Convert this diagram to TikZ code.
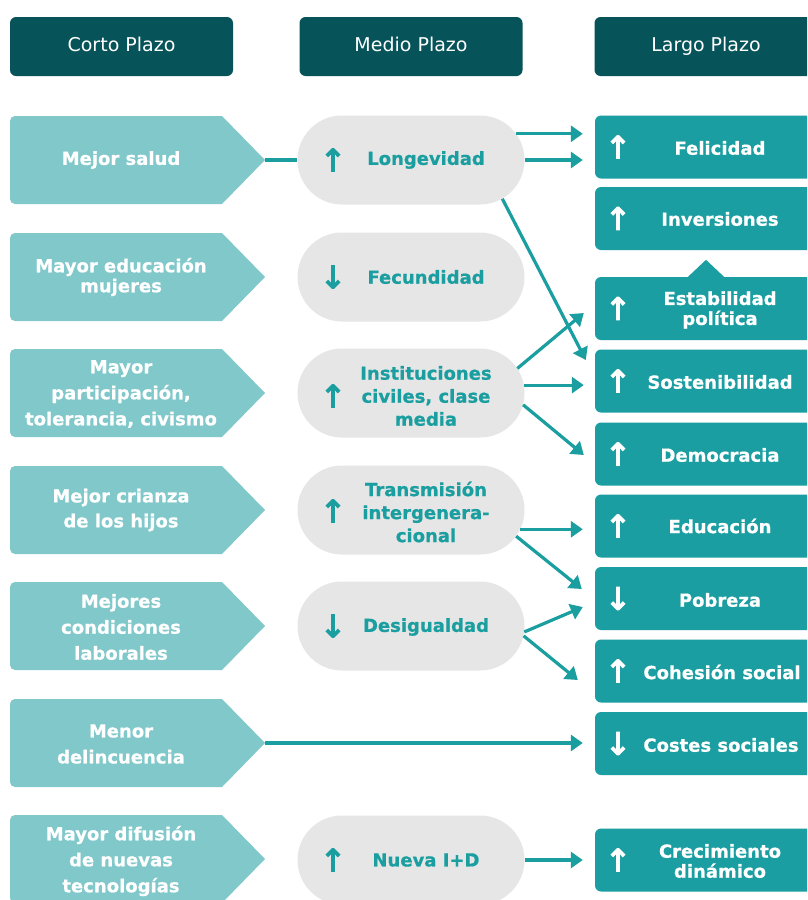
\documentclass[tikz,border=0pt]{standalone}
\usepackage{fontspec}
\setmainfont{DejaVu Sans}[BoldFeatures={FakeBold=0.7}]
\newfontfamily\arrfont[FakeBold=4]{DejaVu Sans}
\usetikzlibrary{arrows.meta,shapes.misc,calc}
\definecolor{hdrcol}{RGB}{6,84,89}
\definecolor{boxcol}{RGB}{27,158,161}
\definecolor{lightcol}{RGB}{129,200,202}
\definecolor{pillcol}{RGB}{230,230,230}
\definecolor{tealtxt}{RGB}{26,158,160}
\begin{document}
\begin{tikzpicture}[x=1pt,y=-1pt,
  hdr/.style={rectangle, rounded corners=6pt, fill=hdrcol, minimum width=223pt, minimum height=59pt, inner sep=0pt, text height=14pt, text depth=4pt, text=white, font=\fontsize{19}{22}\selectfont},
  ltxt/.style={text=white, align=center, inner sep=0pt, font=\bfseries\fontsize{18}{26}\selectfont},
  pill/.style={rounded rectangle, fill=pillcol, minimum width=227pt, minimum height=89pt, inner sep=0pt},
  ptxt/.style={text=tealtxt, align=center, inner sep=0pt, font=\bfseries\fontsize{18}{23}\selectfont},
  parr/.style={text=tealtxt, inner sep=0pt, font=\arrfont\fontsize{31}{31}\selectfont},
  rbox/.style={rectangle, rounded corners=6pt, fill=boxcol, minimum width=222pt, minimum height=63pt, inner sep=0pt},
  rtxt/.style={text=white, align=center, inner sep=0pt, font=\bfseries\fontsize{18}{20}\selectfont},
  rarr/.style={text=white, inner sep=0pt, font=\arrfont\fontsize{31}{31}\selectfont},
  conn/.style={draw=tealtxt, line width=3.2pt, -{Triangle[length=12pt,width=16pt]}},
  plainconn/.style={draw=tealtxt, line width=3.2pt}
]
\useasboundingbox (0,0) rectangle (807,900);
\clip (0,0) rectangle (807,900);
\fill[white] (0,0) rectangle (807,900);

% headers
\node[hdr] (H1) at (121.5,46.5) {Corto Plazo};
\node[hdr] (H2) at (411,46.5) {Medio Plazo};
\node[hdr] (H3) at (706,46.5) {Largo Plazo};

% left arrow shapes
\foreach \c in {160,277,393,510,626,743,859}{
  \fill[lightcol] (265,\c) -- (222,\c+44) [rounded corners=5pt] -- (10,\c+44) -- (10,\c-44) [sharp corners] -- (222,\c-44) -- cycle;
}
\coordinate (L1tip) at (265,160);
\coordinate (L6tip) at (265,743);
\node[ltxt] (L1) at (121,160) {Mejor salud};
\node[ltxt, font=\bfseries\fontsize{18}{20}\selectfont] (L2) at (121,277) {Mayor educación\\mujeres};
\node[ltxt] (L3) at (121,394) {Mayor\\participación,\\tolerancia, civismo};
\node[ltxt, font=\bfseries\fontsize{18}{25}\selectfont] (L4) at (121,510) {Mejor crianza\\de los hijos};
\node[ltxt] (L5) at (121,627) {Mejores\\condiciones\\laborales};
\node[ltxt] (L6) at (121,744) {Menor\\delincuencia};
\node[ltxt] (L7) at (121,861) {Mayor difusión\\de nuevas\\tecnologías};

% pills
\node[pill] (P1) at (411,160) {};
\node[pill] (P2) at (411,277) {};
\node[pill] (P3) at (411,393) {};
\node[pill] (P4) at (411,510) {};
\node[pill] (P5) at (411,626) {};
\node[pill] (P6) at (411,860) {};
\node[parr] (P1a) at (333,160) {↑};
\node[parr] (P2a) at (333,277) {↓};
\node[parr] (P3a) at (333,396) {↑};
\node[parr] (P4a) at (333,511) {↑};
\node[parr] (P5a) at (333,626) {↓};
\node[parr] (P6a) at (333,860) {↑};
\node[ptxt] (P1t) at (426,160) {Longevidad};
\node[ptxt] (P2t) at (426,277) {Fecundidad};
\node[ptxt] (P3t) at (426,396) {Instituciones\\civiles, clase\\media};
\node[ptxt] (P4t) at (426,512) {Transmisión\\intergenera-\\cional};
\node[ptxt] (P5t) at (426,627) {Desigualdad};
\node[ptxt] (P6t) at (426,860) {Nueva I+D};

% right boxes
\node[rbox] (R1) at (706,147) {};
\node[rbox] (R2) at (706,218.5) {};
\node[rbox] (R3) at (706,308.5) {};
\node[rbox] (R4) at (706,381) {};
\node[rbox] (R5) at (706,454) {};
\node[rbox] (R6) at (706,526) {};
\node[rbox] (R7) at (706,598.5) {};
\node[rbox] (R8) at (706,671) {};
\node[rbox] (R9) at (706,743.5) {};
\node[rbox] (R10) at (706,860) {};
\fill[boxcol] ([xshift=-18pt]R3.north) -- ([yshift=17pt]R3.north) -- ([xshift=18pt]R3.north) -- cycle;

\node[rarr] (R1a) at (618,147) {↑};
\node[rarr] (R2a) at (618,218.5) {↑};
\node[rarr] (R3a) at (618,308.5) {↑};
\node[rarr] (R4a) at (618,381) {↑};
\node[rarr] (R5a) at (618,454) {↑};
\node[rarr] (R6a) at (618,526) {↑};
\node[rarr] (R7a) at (618,598.5) {↓};
\node[rarr] (R8a) at (618,671) {↑};
\node[rarr] (R9a) at (618,743.5) {↓};
\node[rarr] (R10a) at (618,860) {↑};
\node[rtxt] (R1t) at (720,148) {Felicidad};
\node[rtxt] (R2t) at (720,219) {Inversiones};
\node[rtxt] (R3t) at (720,310) {Estabilidad\\política};
\node[rtxt] (R4t) at (720,382) {Sostenibilidad};
\node[rtxt] (R5t) at (720,455) {Democracia};
\node[rtxt] (R6t) at (720,526) {Educación};
\node[rtxt] (R7t) at (720,600) {Pobreza};
\node[rtxt] (R8t) at (722,672) {Cohesión social};
\node[rtxt] (R9t) at (721,745) {Costes sociales};
\node[rtxt] (R10t) at (720,861) {Crecimiento\\dinámico};

% connectors
\draw[plainconn] (L1tip) -- (P1.west);
\draw[conn, shorten >=12pt] (P1.14.4) -- (P1.14.4 -| R1.west);
\draw[conn, shorten >=12pt] (P1.east) -- (P1.east -| R1.west);
\draw[conn] (P1.-23.7) -- ([xshift=-9pt,yshift=21pt]R4.west);
\draw[conn] (P3.13.2) -- ([xshift=-11pt,yshift=-4.5pt]R3.west);
\draw[conn, shorten >=11pt] (P3.4.5) -- (P3.4.5 -| R4.west);
\draw[conn] (P3.-6.1) -- ([xshift=-11pt,yshift=-1pt]R5.west);
\draw[conn, shorten >=12pt] (P4.-10.4) -- (P4.-10.4 -| R6.west);
\draw[conn] (P4.-14.5) -- ([xshift=-13pt,yshift=9.5pt]R7.west);
\draw[conn] (P5.-3) -- ([xshift=-12pt,yshift=-8.5pt]R7.west);
\draw[conn] (P5.-5) -- ([xshift=-17pt,yshift=-9pt]R8.west);
\draw[conn, shorten >=12pt] (L6tip) -- (L6tip -| R9.west);
\draw[conn, shorten >=12pt] (P6.east) -- (R10.west);
\end{tikzpicture}
\end{document}
